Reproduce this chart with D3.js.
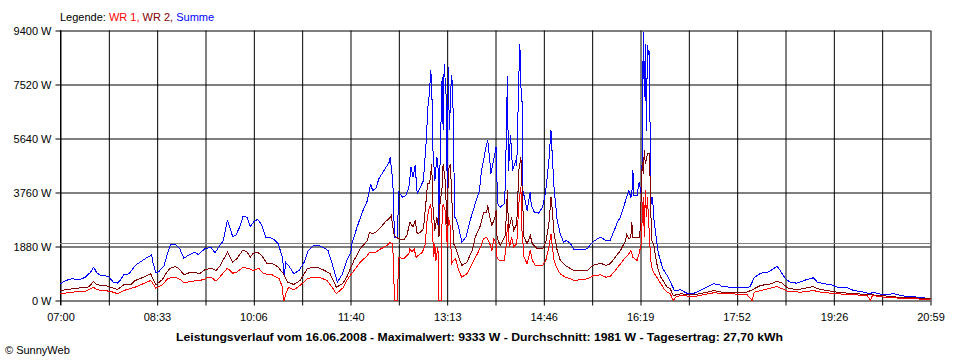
<!DOCTYPE html>
<html><head><meta charset="utf-8">
<script src="https://cdn.jsdelivr.net/npm/d3@7"></script>
<style>
body{margin:0;background:#fff}
svg{display:block}
text{font-family:"Liberation Sans",Arial,sans-serif}
</style>
</head><body>
<svg id="c" width="960" height="360"></svg>
<script>
// ---- data (time = minutes since midnight, value = W) ----
const yTickValues = [0, 1880, 3760, 5640, 7520, 9400];
const xTickLabels = ["07:00","08:33","10:06","11:40","13:13","14:46","16:19","17:52","19:26","20:59"];
const startTime = "07:00", endTime = "20:59";
const gridCount = 18;
const average = 1981;
const legendLabels = ["WR 1,", "WR 2,", "Summe"];
const titleText = "Leistungsverlauf vom 16.06.2008 - Maximalwert: 9333 W - Durchschnitt: 1981 W - Tagesertrag: 27,70 kWh";

const summe = [[420,581],[425,696],[431,755],[439,731],[444,811],[449,985],[452,1159],[455,964],[459,870],[463,870],[467,811],[471,637],[475,602],[478,721],[481,895],[486,930],[492,1219],[499,1393],[504,1507],[508,1591],[509,1333],[512,964],[515,1010],[520,1219],[523,1626],[526,1939],[531,1939],[535,1800],[539,1473],[544,1591],[549,1682],[553,1601],[559,1800],[565,1856],[569,1661],[573,1880],[577,2089],[581,2810],[586,2228],[589,2263],[593,2576],[596,2924],[600,2900],[603,2576],[606,2726],[610,2830],[613,2691],[615,2531],[618,2204],[622,2204],[627,2089],[630,1974],[634,1507],[636,811],[637,1333],[640,1219],[645,930],[650,1044],[655,1333],[659,1741],[664,1915],[669,1915],[674,1835],[678,1741],[682,1278],[687,637],[692,930],[696,1393],[700,1682],[701,1974],[706,2552],[711,3074],[716,3482],[719,4063],[721,3830],[724,3889],[727,4237],[730,4411],[733,4585],[737,4815],[738,4989],[740,4293],[741,3715],[742,2204],[745,2204],[746,3771],[750,3597],[753,3656],[756,3945],[758,4641],[760,4293],[762,4700],[764,3715],[767,3945],[770,4178],[773,5686],[774,6615],[776,7311],[777,8007],[778,7659],[779,5338],[781,4178],[783,4989],[784,4759],[785,2437],[786,4759],[788,7775],[789,5919],[790,8241],[792,7078],[793,3597],[794,8123],[795,5919],[797,7833],[798,7555],[799,5919],[800,2900],[801,2900],[804,2552],[807,2030],[811,2204],[815,2785],[820,3377],[824,3830],[826,4526],[828,4874],[830,5281],[832,5595],[834,4874],[835,4411],[838,4944],[840,5337],[841,4063],[842,3307],[844,3248],[848,3367],[849,4004],[851,7833],[852,4526],[854,5744],[856,4526],[857,4641],[859,4874],[860,4700],[862,7775],[863,8937],[864,7426],[865,7137],[866,3830],[868,3482],[870,3133],[873,3771],[874,3307],[877,3074],[881,3039],[885,3248],[888,3830],[891,4874],[893,5919],[894,5222],[896,3899],[899,2785],[902,2322],[905,2030],[908,2089],[912,1974],[915,1765],[921,1765],[928,1800],[933,2030],[938,2148],[941,2204],[946,2089],[950,2089],[954,2437],[957,2726],[960,2900],[963,3248],[966,3597],[968,3830],[970,3597],[971,3725],[972,4526],[973,3656],[976,3656],[978,4119],[980,3725],[981,4989],[982,9333],[983,7078],[984,8937],[985,5900],[986,8878],[987,8588],[988,8645],[989,3830],[990,3367],[991,3600],[992,2900],[994,2322],[996,1741],[998,1452],[1001,1103],[1005,870],[1009,581],[1012,348],[1018,372],[1024,254],[1031,254],[1037,348],[1044,487],[1050,581],[1055,557],[1058,487],[1066,463],[1082,442],[1085,487],[1087,637],[1089,790],[1095,950],[1102,985],[1106,1069],[1111,1184],[1113,1103],[1116,930],[1120,721],[1124,637],[1130,602],[1137,696],[1142,755],[1146,790],[1150,637],[1156,581],[1163,557],[1169,463],[1179,442],[1185,348],[1195,289],[1201,233],[1203,289],[1212,209],[1224,233],[1230,174],[1236,139],[1249,115],[1259,59]];

const wr2 = [[420,348],[431,407],[444,463],[447,470],[452,661],[455,547],[463,522],[468,463],[475,383],[481,547],[488,557],[492,696],[500,811],[507,930],[509,755],[512,547],[518,721],[523,1010],[526,1125],[531,1184],[535,1079],[539,895],[544,964],[550,985],[554,930],[559,1069],[566,1125],[570,1044],[574,1219],[581,1682],[586,1333],[590,1452],[596,1765],[600,1682],[603,1507],[606,1647],[610,1682],[614,1567],[619,1299],[624,1299],[630,1159],[635,930],[639,637],[645,557],[651,696],[658,1103],[664,1159],[669,1138],[676,1020],[680,930],[686,463],[692,581],[696,811],[703,1393],[709,1800],[716,2089],[718,2378],[721,2322],[724,2378],[729,2552],[733,2726],[738,2900],[739,2959],[741,2437],[742,2263],[746,2148],[751,2113],[754,2263],[757,2726],[760,2552],[762,2785],[764,2322],[767,2378],[770,2496],[772,3248],[774,4063],[776,4063],[778,4759],[779,3367],[781,2437],[783,2900],[784,2670],[785,2204],[786,3367],[788,3945],[789,4759],[791,4178],[793,2437],[794,4526],[796,4759],[798,3019],[799,1974],[801,1856],[804,1507],[807,1219],[812,1333],[817,1741],[820,2204],[825,2611],[828,3074],[831,3074],[832,3307],[834,2900],[836,2611],[839,2900],[840,3133],[841,2204],[844,1915],[849,2263],[851,3830],[852,2437],[855,2900],[857,2437],[860,2670],[862,4526],[864,4989],[865,4063],[867,2204],[870,1974],[873,2263],[875,1974],[880,1800],[885,1800],[888,2030],[891,2670],[893,3597],[894,3248],[896,2322],[899,1741],[902,1393],[907,1219],[912,1103],[915,1044],[928,1044],[933,1219],[941,1299],[946,1219],[950,1278],[955,1507],[960,1741],[965,2089],[966,2298],[968,2148],[970,2204],[971,2726],[972,2204],[978,2204],[979,2437],[981,4815],[982,4411],[983,5222],[984,4759],[986,5107],[988,5107],[989,3597],[990,2089],[992,1974],[994,1507],[996,1103],[999,811],[1002,637],[1005,463],[1008,407],[1011,174],[1018,233],[1031,198],[1044,289],[1050,348],[1058,289],[1082,289],[1087,372],[1095,522],[1105,581],[1111,672],[1116,602],[1121,442],[1130,372],[1140,442],[1146,487],[1150,407],[1159,348],[1169,289],[1179,254],[1198,209],[1211,174],[1227,115],[1243,94],[1259,59]];

const wr1 = [[420,233],[431,289],[444,324],[452,463],[455,372],[463,348],[471,289],[475,233],[481,348],[492,463],[507,696],[510,547],[512,428],[518,547],[524,776],[531,811],[536,721],[539,616],[545,661],[553,696],[559,731],[561,811],[566,790],[570,672],[574,836],[581,1125],[586,950],[590,985],[596,1159],[602,1103],[606,1044],[611,1125],[616,930],[624,895],[631,755],[634,463],[635,0],[636,0],[637,233],[640,463],[645,372],[651,522],[658,755],[663,811],[671,790],[677,696],[682,463],[686,233],[693,463],[696,696],[703,1044],[709,1333],[716,1567],[718,1682],[724,1682],[729,1800],[735,1915],[738,2030],[740,1974],[741,1507],[742,0],[745,0],[746,1507],[751,1452],[756,1626],[757,1800],[759,1682],[761,1800],[763,1507],[769,1682],[772,1974],[773,2670],[775,3133],[777,3367],[778,2900],[780,1507],[781,1974],[782,1393],[784,1856],[785,0],[787,0],[788,2900],[789,3367],[791,3133],[793,1856],[794,2900],[796,2552],[797,1278],[799,1393],[801,1452],[804,1044],[807,811],[812,930],[817,1278],[822,1626],[825,1856],[828,2148],[831,2204],[834,1974],[836,1741],[838,2148],[840,1974],[841,1507],[843,1393],[848,1393],[850,1974],[851,2670],[853,1856],[855,2204],[857,1856],[860,1974],[862,3367],[864,3945],[865,2437],[867,1507],[870,1278],[873,1741],[875,1393],[878,1219],[885,1219],[888,1393],[891,1856],[893,2322],[894,1974],[896,1393],[899,1103],[902,930],[907,811],[912,755],[915,696],[928,755],[934,870],[941,895],[946,811],[950,836],[955,1044],[960,1278],[965,1507],[967,1567],[970,1741],[972,1507],[976,1393],[978,1626],[980,1974],[981,2900],[982,3597],[983,2204],[984,3830],[985,2900],[986,3597],[988,2204],[989,1507],[990,1159],[992,985],[996,755],[999,581],[1002,407],[1005,289],[1008,233],[1011,0],[1013,115],[1018,174],[1031,139],[1044,233],[1050,268],[1066,233],[1082,209],[1087,0],[1089,289],[1098,372],[1111,487],[1116,407],[1121,324],[1134,289],[1146,348],[1153,289],[1163,254],[1179,209],[1198,174],[1201,0],[1203,174],[1214,115],[1230,80],[1243,59],[1259,35]];

// ---- drawing ----
const toMin = s => { const [h, m] = s.split(":").map(Number); return h * 60 + m; };
const L = 60, R = 930, T = 30, B = 300;
const x = d3.scaleLinear().domain([toMin(startTime), toMin(endTime)]).range([L + 0.5, R + 0.5]);
const y = d3.scaleLinear().domain([0, d3.max(yTickValues)]).range([B + 0.5, T + 0.5]);
const svg = d3.select("#c");
const FONT = "'Liberation Sans', Arial, sans-serif";

const t0 = toMin(startTime), t1 = toMin(endTime);
const gridTimes = d3.range(gridCount + 1).map(i => t0 + i * (t1 - t0) / gridCount);

// vertical grid lines with tick extension below
const gv = svg.append("g").attr("transform", `translate(0,${B + 0.5})`)
  .call(d3.axisBottom(x).tickValues(gridTimes).tickSizeInner(5).tickSizeOuter(0).tickFormat(""));
gv.select(".domain").remove();
gv.selectAll(".tick line").attr("y1", -(B - T)).attr("y2", 5).attr("stroke", "#000");

// horizontal grid + y labels
const gy = svg.append("g").attr("transform", `translate(${L + 0.5},0)`)
  .call(d3.axisLeft(y).tickValues(yTickValues).tickSize(5).tickPadding(4).tickFormat(d => d + " W"));
gy.select(".domain").remove();
gy.selectAll(".tick line").attr("x1", -5).attr("x2", R - L).attr("stroke", "#000");
gy.selectAll(".tick text").attr("font-family", FONT).attr("font-size", 11).attr("fill", "#000");

// left axis line
svg.append("line").attr("x1", L + 0.5).attr("x2", L + 0.5).attr("y1", T).attr("y2", B + 5)
  .attr("stroke", "#000");

// x labels
const gx = svg.append("g").attr("transform", `translate(0,${B + 0.5})`)
  .call(d3.axisBottom(x).tickValues(xTickLabels.map(toMin)).tickSize(0).tickPadding(13)
    .tickFormat((d, i) => xTickLabels[i]));
gx.select(".domain").remove();
gx.selectAll(".tick text").attr("font-family", FONT).attr("font-size", 11).attr("fill", "#000");

// average line
svg.append("line").attr("x1", L).attr("x2", R + 1)
  .attr("y1", Math.round(y(average) - 0.5) + 0.5).attr("y2", Math.round(y(average) - 0.5) + 0.5)
  .attr("stroke", "#808080");

// series
const line = d3.line().x(d => x(d[0])).y(d => y(d[1]));
const seriesList = [
  { data: summe, color: "#0000ff" },
  { data: wr2, color: "#800000" },
  { data: wr1, color: "#ff0000" }
];
svg.append("g").selectAll("path").data(seriesList).join("path")
  .attr("d", s => line(s.data))
  .attr("fill", "none").attr("stroke", s => s.color).attr("stroke-width", 1)
  .attr("shape-rendering", "crispEdges");

// legend
const legendColors = ["#ff0000", "#800000", "#0000ff"];
const lg = svg.append("text").attr("x", L).attr("y", 21)
  .attr("font-family", FONT).attr("font-size", 11);
lg.append("tspan").attr("fill", "#000").text("Legende: ");
legendLabels.forEach((t, i) => {
  lg.append("tspan").attr("fill", legendColors[i]).text(t + (i < legendLabels.length - 1 ? " " : ""));
});

// title
svg.append("text").attr("x", 479.5).attr("y", 341).attr("text-anchor", "middle")
  .attr("font-family", FONT).attr("font-size", 11).attr("font-weight", "bold")
  .attr("textLength", 607).attr("lengthAdjust", "spacingAndGlyphs").text(titleText);

// copyright
svg.append("text").attr("x", 5).attr("y", 354)
  .attr("font-family", FONT).attr("font-size", 11).attr("fill", "#000").text("© SunnyWeb");
</script>
</body></html>
